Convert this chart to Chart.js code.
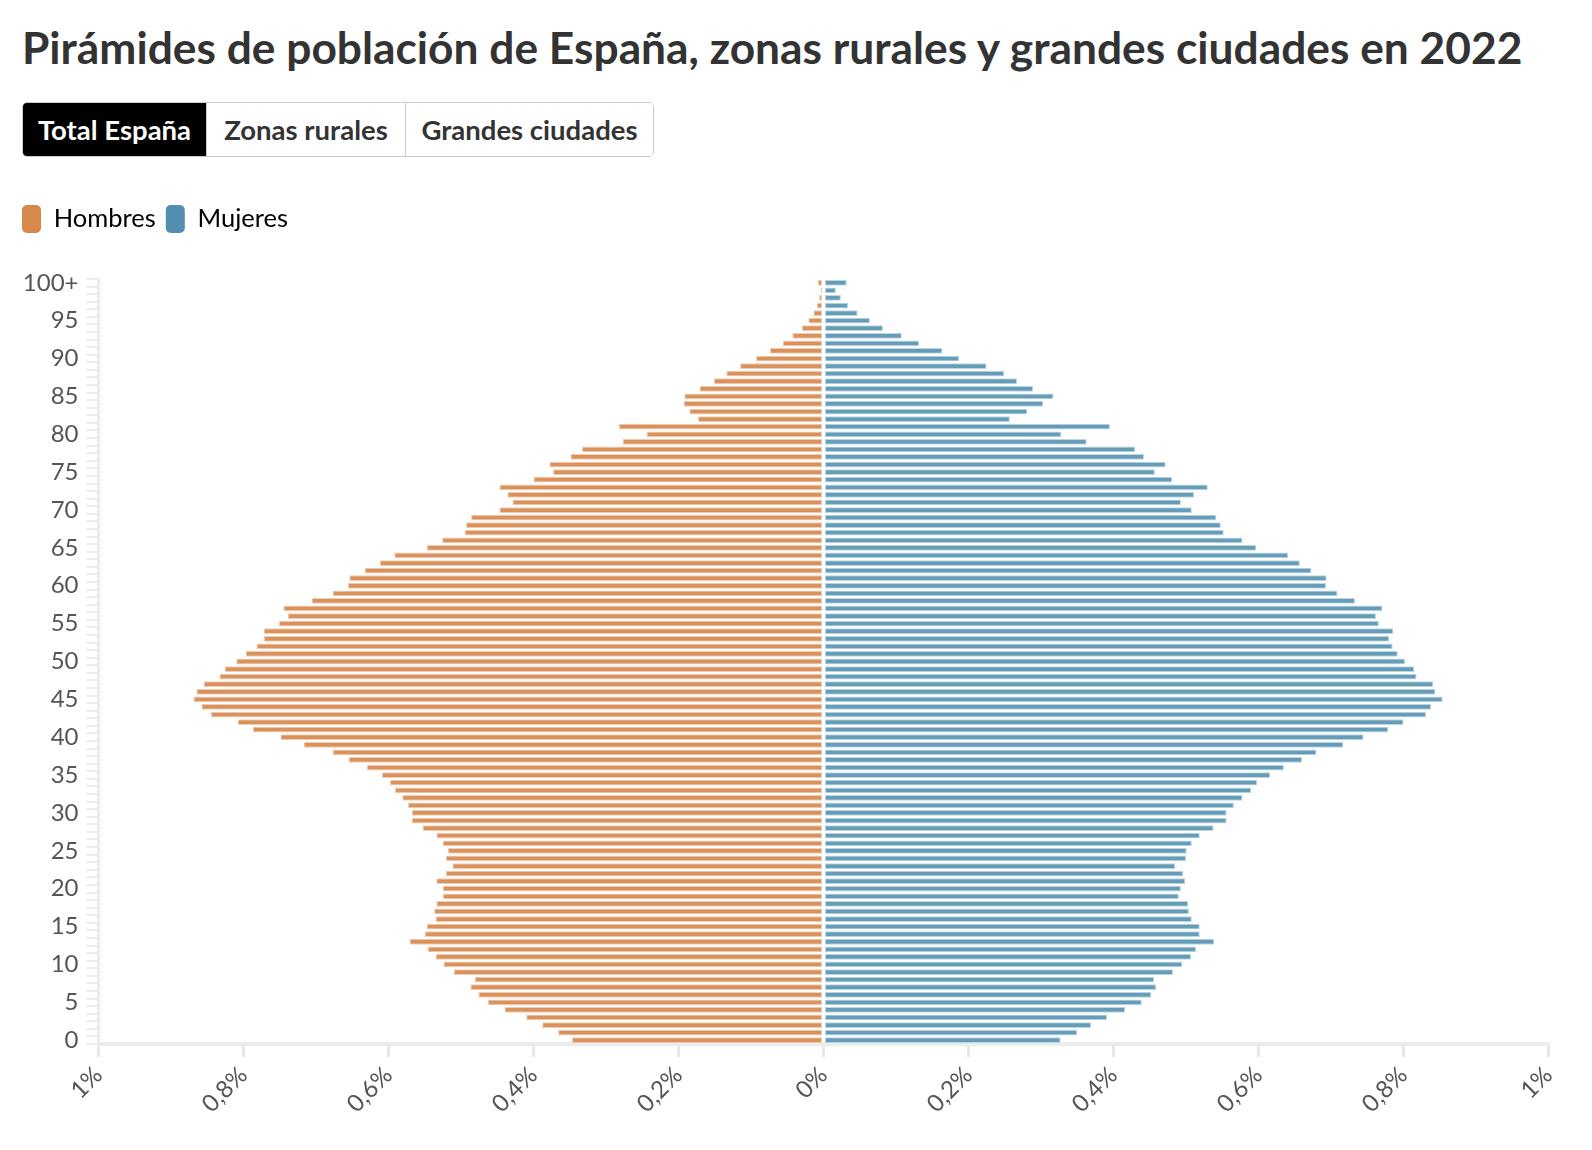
<!DOCTYPE html>
<html lang="es">
<head>
<meta charset="utf-8">
<title>Pirámides de población de España</title>
<script src="https://cdn.jsdelivr.net/npm/chart.js@4.4.1/dist/chart.umd.min.js"></script>
<style>
  body { margin: 0; background: #fff; font-family: Lato, sans-serif; color: #333; }
  .page { position: relative; width: 1592px; height: 1150px; overflow: hidden; }
  h1 { position: absolute; left: 22px; top: 25px; margin: 0; font-size: 44.3px; line-height: 1; font-weight: 700; color: #333; white-space: nowrap; }
  .tabs { position: absolute; left: 22px; top: 102px; height: 55px; display: flex; box-sizing: border-box; border: 1.5px solid #ccc; border-radius: 5px; overflow: hidden; }
  .tab { box-sizing: border-box; height: 100%; display: flex; align-items: center; justify-content: center; font-size: 27.5px; font-weight: 700; color: #333; background: #fff; }
  .tab + .tab { border-left: 1.5px solid #ccc; }
  .tab.active { background: #000; color: #fff; }
  .chart-box { position: absolute; left: 0; top: 195px; width: 1592px; height: 955px; }
</style>
</head>
<body>
<div class="page">
  <h1>Pirámides de población de España, zonas rurales y grandes ciudades en 2022</h1>
  <div class="tabs">
    <div class="tab active" style="width:183px">Total España</div>
    <div class="tab" style="width:199px">Zonas rurales</div>
    <div class="tab" style="width:248px">Grandes ciudades</div>
  </div>
  <div class="chart-box"><canvas id="chart"></canvas></div>
</div>
<script>
// edades 0..99 y 100+
const edades = Array.from({ length: 100 }, (_, i) => String(i)).concat("100+");

// % de la población total, por edad (0 -> 100+)
const hombres = [
    0.347, 0.366, 0.388, 0.410, 0.440, 0.463, 0.476, 0.487, 0.481, 0.510,
    0.524, 0.535, 0.546, 0.571, 0.550, 0.547, 0.535, 0.537, 0.534, 0.525,
    0.525, 0.534, 0.521, 0.512, 0.521, 0.518, 0.525, 0.534, 0.553, 0.568,
    0.568, 0.573, 0.581, 0.591, 0.598, 0.609, 0.630, 0.655, 0.677, 0.717,
    0.749, 0.787, 0.808, 0.845, 0.858, 0.869, 0.865, 0.855, 0.833, 0.826,
    0.810, 0.797, 0.782, 0.772, 0.772, 0.751, 0.739, 0.745, 0.706, 0.677,
    0.656, 0.654, 0.633, 0.612, 0.592, 0.547, 0.526, 0.495, 0.493, 0.486,
    0.447, 0.429, 0.436, 0.447, 0.400, 0.373, 0.378, 0.349, 0.333, 0.277,
    0.244, 0.282, 0.173, 0.185, 0.193, 0.192, 0.171, 0.151, 0.134, 0.115,
    0.093, 0.074, 0.056, 0.043, 0.030, 0.021, 0.014, 0.009, 0.006, 0.004,
    0.008
];
const mujeres = [
    0.327, 0.350, 0.369, 0.391, 0.416, 0.439, 0.452, 0.459, 0.456, 0.482,
    0.495, 0.507, 0.514, 0.539, 0.519, 0.519, 0.508, 0.504, 0.503, 0.490,
    0.493, 0.499, 0.496, 0.485, 0.500, 0.501, 0.508, 0.519, 0.538, 0.556,
    0.556, 0.566, 0.578, 0.590, 0.598, 0.616, 0.635, 0.660, 0.680, 0.717,
    0.745, 0.779, 0.800, 0.831, 0.838, 0.854, 0.844, 0.841, 0.818, 0.815,
    0.802, 0.792, 0.785, 0.780, 0.786, 0.766, 0.762, 0.771, 0.733, 0.709,
    0.693, 0.694, 0.673, 0.657, 0.641, 0.597, 0.578, 0.552, 0.548, 0.542,
    0.508, 0.493, 0.511, 0.530, 0.481, 0.457, 0.472, 0.442, 0.430, 0.363,
    0.328, 0.395, 0.257, 0.281, 0.303, 0.317, 0.289, 0.267, 0.249, 0.225,
    0.187, 0.164, 0.132, 0.108, 0.082, 0.064, 0.047, 0.034, 0.024, 0.017,
    0.032
];

const legendColors = ["#d6894a", "#528fae"];

Chart.defaults.font.family = "Lato, sans-serif";
Chart.defaults.color = "#555";

// the legend needs more room than Chart.js gives it
const legendSpacer = {
    id: "legendSpacer",
    afterInit(chart) {
        const fit = chart.legend.fit;
        chart.legend.fit = function () {
            fit.call(this);
            this.height = 84;
        };
    }
};

function formatPct(value) {
    const v = Math.round(Math.abs(value) * 10) / 10;
    return String(v).replace(".", ",") + "%";
}

new Chart(document.getElementById("chart"), {
    type: "bar",
    data: {
        labels: edades,
        datasets: [
            {
                label: "Hombres",
                data: hombres.map(v => -v),
                backgroundColor: "#da915b",
                borderColor: "#efcdb3",
                borderWidth: 1,
                borderSkipped: false,
                barPercentage: 0.76,
                categoryPercentage: 1
            },
            {
                label: "Mujeres",
                data: mujeres,
                backgroundColor: "#659db9",
                borderColor: "#bcd5e2",
                borderWidth: 1,
                borderSkipped: false,
                barPercentage: 0.76,
                categoryPercentage: 1
            }
        ]
    },
    options: {
        indexAxis: "y",
        responsive: true,
        maintainAspectRatio: false,
        animation: false,
        layout: { padding: { left: 12, right: 43.5, top: 0, bottom: 0 } },
        plugins: {
            legend: {
                position: "top",
                align: "start",
                labels: {
                    boxWidth: 19,
                    boxHeight: 28,
                    padding: 10,
                    useBorderRadius: true,
                    borderRadius: 5,
                    color: "#333",
                    font: { size: 25.5 },
                    generateLabels: chart => chart.data.datasets.map((ds, i) => ({
                        text: ds.label,
                        fillStyle: legendColors[i],
                        strokeStyle: legendColors[i],
                        lineWidth: 0,
                        borderRadius: 5,
                        datasetIndex: i,
                        hidden: !chart.isDatasetVisible(i)
                    }))
                }
            },
            tooltip: {
                callbacks: {
                    label: ctx => `${ctx.dataset.label}: ${Math.abs(ctx.raw).toFixed(3).replace(".", ",")}%`
                }
            }
        },
        scales: {
            x: {
                stacked: true,
                min: -1,
                max: 1,
                ticks: {
                    stepSize: 0.2,
                    minRotation: 45,
                    maxRotation: 45,
                    padding: 4,
                    font: { size: 24 },
                    color: "#555",
                    callback: value => formatPct(value)
                },
                grid: { drawOnChartArea: false, drawTicks: true, tickLength: 13, color: "#e8e8e8", lineWidth: 3 },
                border: { color: "#ececec", width: 4 },
                afterFit(scale) {
                    scale.height = 106;
                    scale.paddingLeft = 0;
                    scale.paddingRight = 0;
                }
            },
            y: {
                stacked: true,
                reverse: true,
                ticks: {
                    autoSkip: false,
                    padding: 8,
                    font: { size: 24 },
                    color: "#555",
                    callback: function (value, index) {
                        return index % 5 === 0 ? this.getLabelForValue(value) : "";
                    }
                },
                grid: { drawOnChartArea: false, drawTicks: true, tickLength: 12, color: "#ebebeb", lineWidth: 2 },
                border: { color: "#ebebeb", width: 3 },
                afterFit(scale) {
                    scale.width = 86.5;
                    scale.paddingTop = 0;
                    scale.paddingBottom = 0;
                }
            }
        }
    },
    plugins: [legendSpacer]
});
</script>
</body>
</html>
